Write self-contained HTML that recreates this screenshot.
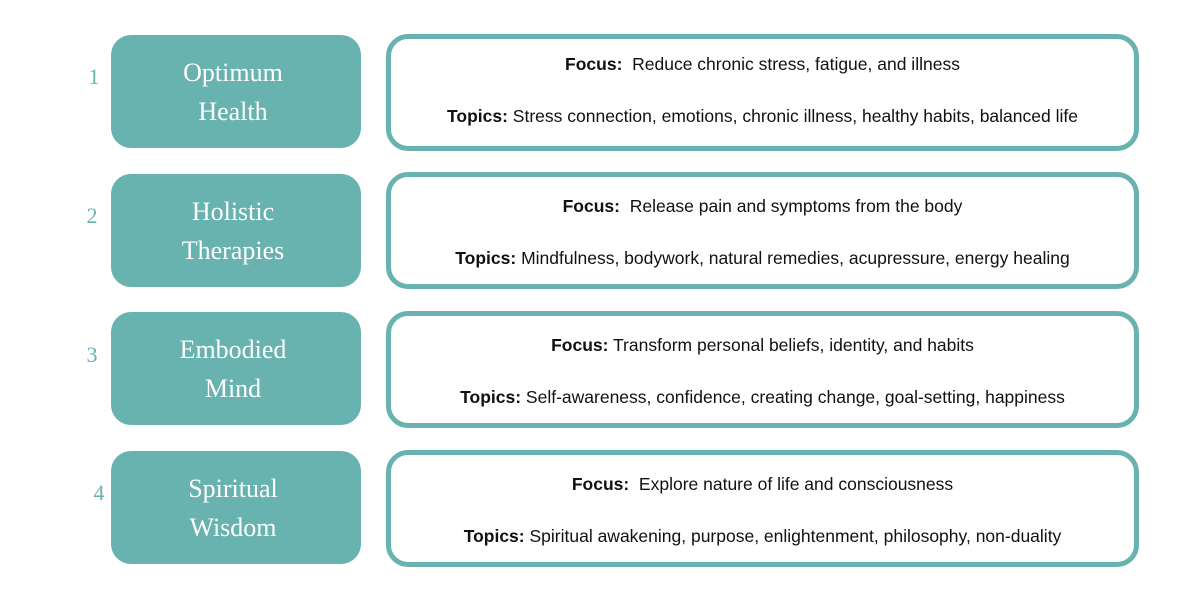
<!DOCTYPE html>
<html><head><meta charset="utf-8"><style>
body{margin:0;width:1200px;height:600px;background:#fff;position:relative;overflow:hidden;font-family:"Liberation Sans",sans-serif}
.n{position:absolute;color:#68b2b0;font-family:"Liberation Serif",serif;font-size:22px;width:30px;text-align:center}
.l{position:absolute;left:108px;width:250px;height:113px;color:#fff;font-family:"Liberation Serif",serif;font-size:26px;line-height:39px;display:flex;align-items:center;justify-content:center;text-align:center}
.l2{position:absolute;left:111px;width:250px;height:113px;background:#68b2b0;border-radius:20px}
.r{position:absolute;left:386px;width:743px;height:107px;border:5px solid #68b2b0;border-radius:22px;background:#fff;color:#111;font-size:17.5px;text-align:center}
.r p{margin:0;position:absolute;left:0;right:0}
.f{top:19px}.t{top:71px}
</style></head><body>
<div class="n" style="left:79px;top:64px">1</div>
<div class="n" style="left:77px;top:203px">2</div>
<div class="n" style="left:77px;top:342px">3</div>
<div class="n" style="left:84px;top:480px">4</div>

<div class="l2" style="top:35px"></div><div class="l" style="top:35px">Optimum<br>Health</div>
<div class="l2" style="top:174px"></div><div class="l" style="top:174px">Holistic<br>Therapies</div>
<div class="l2" style="top:312px"></div><div class="l" style="top:312px">Embodied<br>Mind</div>
<div class="l2" style="top:451px"></div><div class="l" style="top:451px">Spiritual<br>Wisdom</div>

<div class="r" style="top:34px"><p class="f" style="top:15px"><b>Focus:</b>&nbsp; Reduce chronic stress, fatigue, and illness</p><p class="t" style="top:67px"><b>Topics:</b> Stress connection, emotions, chronic illness, healthy habits, balanced life</p></div>
<div class="r" style="top:172px"><p class="f"><b>Focus:</b>&nbsp; Release pain and symptoms from the body</p><p class="t"><b>Topics:</b> Mindfulness, bodywork, natural remedies, acupressure, energy healing</p></div>
<div class="r" style="top:311px"><p class="f"><b>Focus:</b> Transform personal beliefs, identity, and habits</p><p class="t"><b>Topics:</b> Self-awareness, confidence, creating change, goal-setting, happiness</p></div>
<div class="r" style="top:450px"><p class="f"><b>Focus:</b>&nbsp; Explore nature of life and consciousness</p><p class="t"><b>Topics:</b> Spiritual awakening, purpose, enlightenment, philosophy, non-duality</p></div>
</body></html>
